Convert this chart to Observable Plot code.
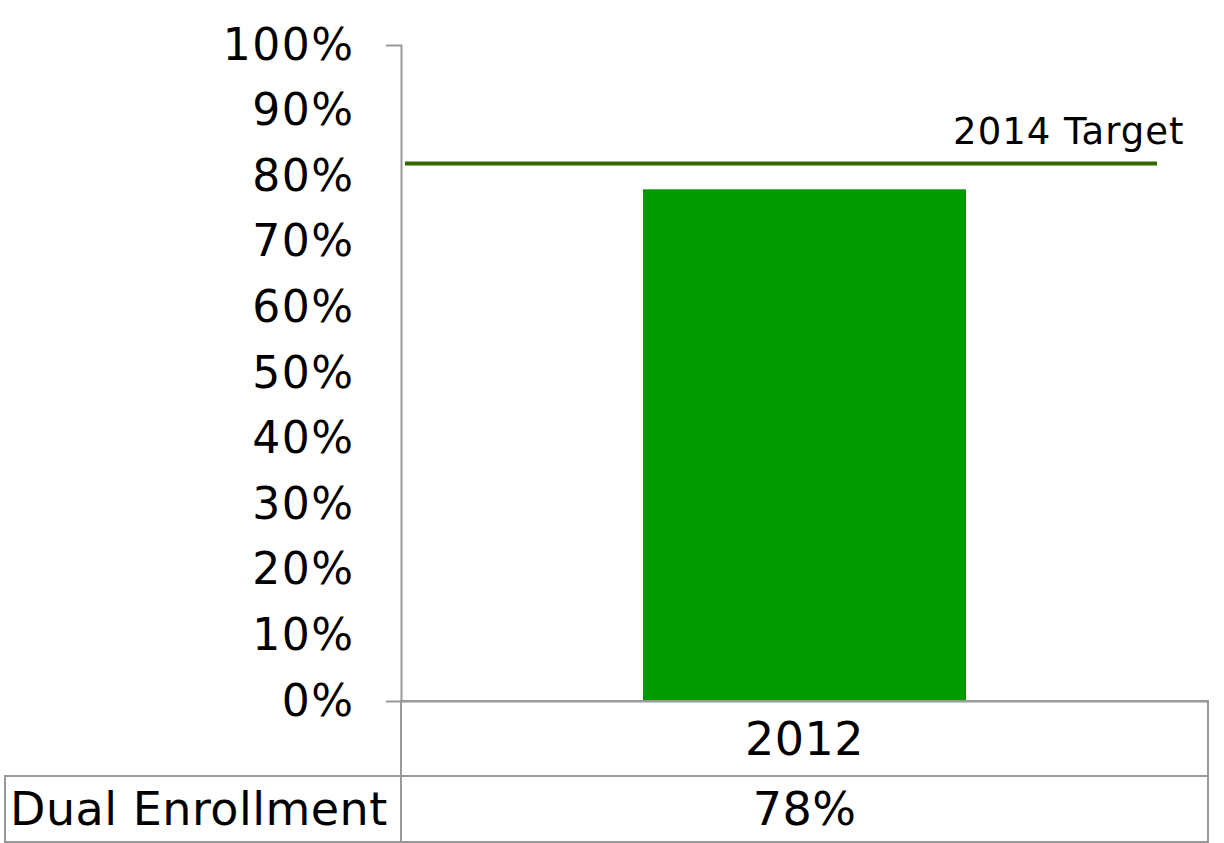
<!DOCTYPE html>
<html>
<head>
<meta charset="utf-8">
<script src="https://cdn.jsdelivr.net/npm/d3@7"></script>
<script src="https://cdn.jsdelivr.net/npm/@observablehq/plot@0.6"></script>
<style>
  body { margin: 0; background: #fff; font-family: "DejaVu Sans", Verdana, sans-serif; }
  #wrap { position: relative; width: 1224px; height: 843px; overflow: hidden; }
  #chart { position: absolute; left: 0; top: 0; }
  .cell { position: absolute; box-sizing: border-box; border: 2px solid #999; display: flex; align-items: center; justify-content: center; font-size: 46px; letter-spacing: 0.5px; color: #000; }
</style>
</head>
<body>
<div id="wrap">
  <div id="chart"></div>
</div>
<script>
const categories = ["2012"];
const values = [78];
const targetValue = [82];
const targetLabel = "2014 Target";
const rowLabel = "Dual Enrollment";
const yTicks = [0, 10, 20, 30, 40, 50, 60, 70, 80, 90, 100];

const data = categories.map((c, i) => ({category: c, value: values[i]}));

const plot = Plot.plot({
  width: 1224,
  height: 843,
  marginTop: 45,
  marginBottom: 142,
  marginLeft: 401,
  marginRight: 16,
  style: {fontFamily: "DejaVu Sans, Verdana, sans-serif", background: "transparent"},
  x: {domain: categories, padding: 0.428, axis: null},
  y: {domain: [0, 100]},
  marks: [
    Plot.barY(data, {x: "category", y: "value", fill: "#009900"}),
    Plot.ruleY(targetValue, {stroke: "#336600", strokeWidth: 4, insetLeft: 4, insetRight: 51}),
    Plot.text(targetValue, {y: d => d, text: () => targetLabel, frameAnchor: "right", textAnchor: "end", dx: -24, dy: -31, fontSize: 37, fill: "#000"}),
    Plot.axisY({ticks: yTicks, tickSize: 0, tickPadding: 47, tickFormat: d => d + "%", fontSize: 44, fill: "#000", label: null}),
    Plot.axisY({ticks: [0, 100], tickSize: 15, text: null, stroke: "#999", strokeWidth: 2, label: null}),
    Plot.frame({anchor: "left", stroke: "#999", strokeWidth: 2}),
    Plot.ruleY([0], {stroke: "#999", strokeWidth: 2})
  ]
});
document.getElementById("chart").appendChild(plot);

// widen glyph spacing to approximate Verdana metrics
d3.select(plot).selectAll('g[aria-label="y-axis tick label"] text').style("letter-spacing", "1.5px");
d3.select(plot).selectAll('g[aria-label="text"] text').style("letter-spacing", "1px");

// data table below the chart
const wrap = document.getElementById("wrap");
function cell(text, left, top, width, height, extra) {
  const d = document.createElement("div");
  d.className = "cell";
  d.textContent = text;
  Object.assign(d.style, {left: left + "px", top: top + "px", width: width + "px", height: height + "px"}, extra || {});
  wrap.appendChild(d);
}
cell(categories[0], 400, 700, 809, 77);
cell(rowLabel, 4, 775, 398, 68, {justifyContent: "flex-start", paddingLeft: "4px"});
cell(values[0] + "%", 400, 775, 809, 68);
</script>
</body>
</html>
